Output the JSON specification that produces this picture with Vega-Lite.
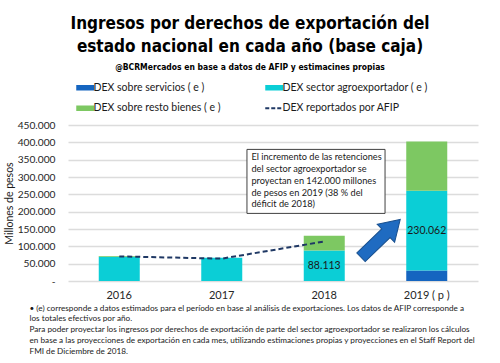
{
  "$schema": "https://vega.github.io/schema/vega-lite/v6.json",
  "width": 410,
  "height": 156,
  "autosize": {"type": "none"},
  "padding": {"left": 68, "top": 125, "right": 22, "bottom": 82},
  "background": "white",
  "config": {
    "view": {"stroke": null},
    "locale": {"number": {"decimal": ",", "thousands": ".", "grouping": [3], "currency": ["$", ""]}},
    "font": "Lato",
    "axisY": {
      "tickCount": 10, "grid": true, "gridColor": "#DCDCDC", "gridWidth": 1.5,
      "domain": false, "ticks": false, "labelFontSize": 10.2, "labelColor": "#262626", "labelPadding": 13,
      "titleFontSize": 10.5, "titleFontWeight": "normal", "titleColor": "#1a1a1a", "titlePadding": 3
    }
  },
  "title": {
    "text": ["Ingresos por derechos de exportación del", "estado nacional en cada año (base caja)"],
    "subtitle": "@BCRMercados en base a datos de AFIP y estimacines propias",
    "font": "DejaVu Sans Condensed, Roboto Condensed, Roboto, sans-serif",
    "fontSize": 17,
    "fontWeight": "bold",
    "lineHeight": 23,
    "color": "black",
    "subtitleFont": "DejaVu Sans Condensed, Roboto Condensed, Roboto, sans-serif",
    "subtitleFontSize": 8.5,
    "subtitleFontWeight": "bold",
    "subtitleColor": "black",
    "subtitlePadding": 7,
    "anchor": "middle",
    "dx": -23,
    "offset": 10
  },
  "datasets": {
    "barras": [
      {"year": "2016", "serie": "DEX sobre servicios ( e )", "orden": 1, "value": 0},
      {"year": "2016", "serie": "DEX sector agroexportador ( e )", "orden": 2, "value": 70000},
      {"year": "2016", "serie": "DEX sobre resto bienes ( e )", "orden": 3, "value": 1800},
      {"year": "2017", "serie": "DEX sobre servicios ( e )", "orden": 1, "value": 0},
      {"year": "2017", "serie": "DEX sector agroexportador ( e )", "orden": 2, "value": 67000},
      {"year": "2017", "serie": "DEX sobre resto bienes ( e )", "orden": 3, "value": 0},
      {"year": "2018", "serie": "DEX sobre servicios ( e )", "orden": 1, "value": 0},
      {"year": "2018", "serie": "DEX sector agroexportador ( e )", "orden": 2, "value": 88113},
      {"year": "2018", "serie": "DEX sobre resto bienes ( e )", "orden": 3, "value": 42500},
      {"year": "2019 ( p )", "serie": "DEX sobre servicios ( e )", "orden": 1, "value": 30500},
      {"year": "2019 ( p )", "serie": "DEX sector agroexportador ( e )", "orden": 2, "value": 230062},
      {"year": "2019 ( p )", "serie": "DEX sobre resto bienes ( e )", "orden": 3, "value": 142000}
    ],
    "afip": [
      {"year": "2016", "serie": "DEX reportados por AFIP", "value": 71000},
      {"year": "2017", "serie": "DEX reportados por AFIP", "value": 64500},
      {"year": "2018", "serie": "DEX reportados por AFIP", "value": 114000}
    ],
    "caja": [{"x": 1.746, "x2": 3.093, "y": 379600, "y2": 195000}],
    "nota": [{"x": 1.79, "y": 368000, "lines": ["El incremento  de las retenciones", "del sector agroexportador  se", "proyectan en 142.000 millones", "de pesos en 2019 (38 % del", "déficit de 2018)"]}],
    "flecha": [{"x": 3.05, "y": 123000}]
  },
  "resolve": {"scale": {"x": "independent"}, "axis": {"y": "independent"}},
  "layer": [
    {
      "layer": [
        {
          "data": {"name": "barras"},
          "mark": {"type": "bar"},
          "encoding": {
            "x": {
              "field": "year", "type": "nominal", "sort": null,
              "scale": {"paddingInner": 0.6, "paddingOuter": 0.3},
              "axis": {
                "labelAngle": 0, "labelFontSize": 11, "labelColor": "#262626", "labelPadding": 8,
                "domain": false, "ticks": false,
                "title": ["• (e)  corresponde a datos estimados para el período  en base al análisis de exportaciones. Los datos de AFIP corresponde  a", "los totales efectivos por  año.", "Para poder proyectar  los ingresos por derechos de exportación de parte del sector agroexportador  se realizaron los cálculos", "en base a las proyecciones de exportación en cada mes, utilizando estimaciones propias y proyecciones  en el Staff Report del", "FMI de Diciembre de 2018."],
                "titleFontSize": 8.2, "titleFontWeight": "normal", "titleColor": "#1a1a1a",
                "titleLineHeight": 10.8, "titleAnchor": "start", "titleAlign": "left", "titleBaseline": "top",
                "titleX": -39, "titleY": 23
              }
            },
            "y": {
              "field": "value", "type": "quantitative", "stack": "zero",
              "scale": {"domain": [0, 450000], "nice": false},
              "axis": {
                "values": [0, 50000, 100000, 150000, 200000, 250000, 300000, 350000, 400000, 450000],
                "format": ",.0f",
                "labelExpr": "datum.value === 0 ? '-' : datum.label",
                "title": "Millones de pesos"
              }
            },
            "color": {
              "field": "serie", "type": "nominal",
              "scale": {
                "domain": ["DEX sobre servicios ( e )", "DEX sector agroexportador ( e )", "DEX sobre resto bienes ( e )", "DEX reportados por AFIP"],
                "range": ["#1565C0", "#0BCED6", "#7DC862", "#1F3864"]
              },
              "legend": {
                "title": null, "orient": "none", "legendX": 12, "legendY": -43,
                "direction": "horizontal", "columns": 2, "columnPadding": 33, "rowPadding": -2,
                "labelFontSize": 10.5, "labelColor": "#1a1a1a", "labelOffset": 3,
                "symbolSize": 324, "symbolType": "stroke",
                "encode": {
                  "symbols": {
                    "update": {
                      "shape": {"value": "stroke"},
                      "stroke": {"signal": "scale('color', datum.value)"},
                      "strokeWidth": {"signal": "datum.value === 'DEX reportados por AFIP' ? 2.2 : 5.5"},
                      "strokeDash": {"signal": "datum.value === 'DEX reportados por AFIP' ? [4, 2] : [1, 0]"},
                      "opacity": {"value": 1}
                    }
                  }
                }
              }
            },
            "order": {"field": "orden", "type": "quantitative"}
          }
        },
        {
          "data": {"name": "afip"},
          "mark": {"type": "line", "strokeDash": [5, 3], "strokeWidth": 2},
          "encoding": {
            "x": {"field": "year", "type": "nominal", "sort": null},
            "y": {
              "field": "value", "type": "quantitative",
              "axis": {
                "values": [0, 50000, 100000, 150000, 200000, 250000, 300000, 350000, 400000, 450000],
                "format": ",.0f",
                "labelExpr": "datum.value === 0 ? '-' : datum.label",
                "title": "Millones de pesos"
              }
            },
            "color": {"field": "serie", "type": "nominal"}
          }
        },
        {
          "data": {"name": "barras"},
          "transform": [
            {"stack": "value", "groupby": ["year"], "sort": [{"field": "orden"}], "as": ["y0", "y1"]},
            {"filter": "datum.serie === 'DEX sector agroexportador ( e )' && (datum.year === '2018' || datum.year === '2019 ( p )')"},
            {"calculate": "(datum.y0 + datum.y1) / 2", "as": "mid"}
          ],
          "mark": {"type": "text", "fontSize": 10.5, "color": "#1a1a1a"},
          "encoding": {
            "x": {"field": "year", "type": "nominal", "sort": null},
            "y": {
              "field": "mid", "type": "quantitative",
              "axis": {
                "values": [0, 50000, 100000, 150000, 200000, 250000, 300000, 350000, 400000, 450000],
                "format": ",.0f",
                "labelExpr": "datum.value === 0 ? '-' : datum.label",
                "title": "Millones de pesos"
              }
            },
            "text": {"field": "value", "type": "quantitative", "format": ",.0f"}
          }
        }
      ]
    },
    {
      "layer": [
        {
          "data": {"name": "caja"},
          "mark": {"type": "rect", "fill": "white", "stroke": "#404040", "strokeWidth": 1},
          "encoding": {
            "x": {"field": "x", "type": "quantitative", "scale": {"domain": [0, 4], "nice": false}, "axis": null},
            "x2": {"field": "x2"},
            "y": {"field": "y", "type": "quantitative", "axis": null},
            "y2": {"field": "y2"}
          }
        },
        {
          "data": {"name": "nota"},
          "mark": {"type": "text", "align": "left", "baseline": "top", "fontSize": 9.2, "lineHeight": 11.7, "color": "#1a1a1a"},
          "encoding": {
            "x": {"field": "x", "type": "quantitative", "axis": null},
            "y": {"field": "y", "type": "quantitative", "axis": null},
            "text": {"field": "lines"}
          }
        },
        {
          "data": {"name": "flecha"},
          "mark": {
            "type": "point", "filled": true, "opacity": 1,
            "shape": "M-1,-0.22 L0.27,-0.22 L0.27,-0.46 L1,0 L0.27,0.46 L0.27,0.22 L-1,0.22 Z",
            "size": 2970, "angle": -44,
            "fill": "#1F6BC1", "stroke": "#174F8E", "strokeWidth": 1
          },
          "encoding": {
            "x": {"field": "x", "type": "quantitative", "axis": null},
            "y": {"field": "y", "type": "quantitative", "axis": null}
          }
        }
      ]
    }
  ]
}
